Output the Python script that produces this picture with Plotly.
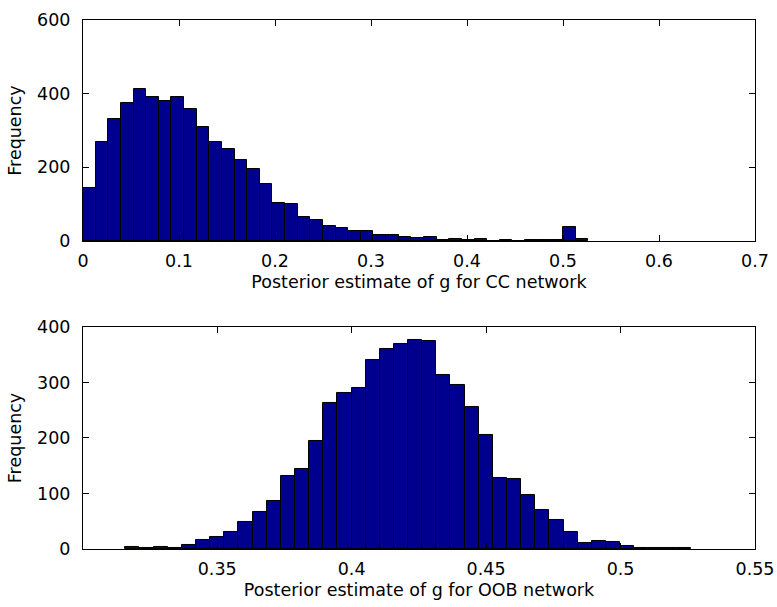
import plotly.graph_objects as go
from plotly.subplots import make_subplots

# ---- data ----
cc_bin_start = 0.0
cc_bin_width = 0.013156
cc_counts = [143, 269, 331, 374, 412, 392, 380, 390, 358, 310,
             269, 249, 220, 195, 154, 104, 100, 64, 56, 42,
             34, 26, 27, 16, 15, 12, 7, 11, 4, 5,
             2, 6, 1, 3, 1, 2, 2, 2, 39, 6]

oob_bin_start = 0.31585
oob_bin_width = 0.005257
oob_counts = [4, 1, 4, 1, 7, 17, 22, 31, 49, 66,
              87, 131, 144, 194, 263, 281, 290, 340, 361, 369,
              377, 374, 313, 295, 255, 206, 128, 126, 98, 70,
              53, 31, 11, 15, 12, 5, 2, 1, 1, 2]

cc_xticks = [0, 0.1, 0.2, 0.3, 0.4, 0.5, 0.6, 0.7]
cc_yticks = [0, 200, 400, 600]
oob_xticks = [0.35, 0.4, 0.45, 0.5, 0.55]
oob_yticks = [0, 100, 200, 300, 400]

cc_xlabel = "Posterior estimate of g for CC network"
oob_xlabel = "Posterior estimate of g for OOB network"
ylabel = "Frequency"

# ---- derived bin centres ----
cc_x = [cc_bin_start + (i + 0.5) * cc_bin_width for i in range(len(cc_counts))]
oob_x = [oob_bin_start + (i + 0.5) * oob_bin_width for i in range(len(oob_counts))]

FONT = "DejaVu Sans"
FS = 17.5
BAR = "#00008F"

fig = make_subplots(rows=2, cols=1)

fig.add_trace(go.Bar(x=cc_x, y=cc_counts, width=cc_bin_width,
                     marker=dict(color=BAR, line=dict(color="black", width=1)),
                     showlegend=False), row=1, col=1)
fig.add_trace(go.Bar(x=oob_x, y=oob_counts, width=oob_bin_width,
                     marker=dict(color=BAR, line=dict(color="black", width=1)),
                     showlegend=False), row=2, col=1)

axis_common = dict(showline=True, linecolor="black", linewidth=1, mirror="ticks",
                   ticks="inside", ticklen=6, tickcolor="black", tickwidth=1,
                   showgrid=False, zeroline=False,
                   tickfont=dict(family=FONT, size=FS, color="black"))

fig.update_xaxes(**axis_common)
fig.update_yaxes(**axis_common)

fig.update_xaxes(range=[0, 0.7], tickvals=cc_xticks, ticktext=[str(v) for v in cc_xticks],
                 domain=[0, 1], ticklabelstandoff=4,
                 title=dict(text=cc_xlabel, font=dict(family=FONT, size=FS, color="black"), standoff=5),
                 row=1, col=1)
fig.update_yaxes(range=[0, 600], tickvals=cc_yticks, domain=[0.5822, 1.0], ticklabelstandoff=8,
                 title=dict(text=ylabel, font=dict(family=FONT, size=FS, color="black"), standoff=10),
                 row=1, col=1)
fig.update_xaxes(range=[0.3001, 0.55], tickvals=oob_xticks, ticktext=[str(v) for v in oob_xticks],
                 domain=[0, 1], ticklabelstandoff=4,
                 title=dict(text=oob_xlabel, font=dict(family=FONT, size=FS, color="black"), standoff=5),
                 row=2, col=1)
fig.update_yaxes(range=[0, 400], tickvals=oob_yticks, domain=[0.0, 0.4197], ticklabelstandoff=8,
                 title=dict(text=ylabel, font=dict(family=FONT, size=FS, color="black"), standoff=10),
                 row=2, col=1)

fig.update_layout(width=777, height=607,
                  margin=dict(l=83, r=22, t=20, b=58, autoexpand=False),
                  paper_bgcolor="white", plot_bgcolor="white",
                  bargap=0, font=dict(family=FONT, size=FS, color="black"))

fig.write_html("out.html")
